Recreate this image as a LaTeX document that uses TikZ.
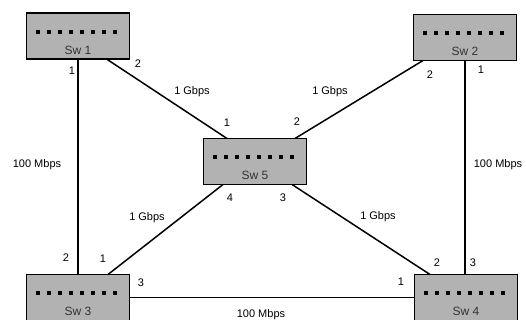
\documentclass[tikz,border=0pt]{standalone}
\usepackage{fontspec}
\setmainfont{Liberation Sans}

\tikzset{
	swbox/.style={draw, fill=gray!60, line width=1.5pt, minimum width=103pt, minimum height=46pt, inner sep=0pt, outer sep=0pt},
	swname/.style={font=\fontsize{12}{14}\selectfont, text=black!80},
	port/.style={font=\fontsize{11}{13}\selectfont, inner sep=0pt},
	rate/.style={font=\fontsize{11}{13}\selectfont, inner sep=0pt}
}

% switch box: name, position, label
\newcommand{\switchbox}[3]{%
	\node[swbox] (#1) at (#2) {};
	\foreach \k in {0,...,7} {
		\fill ([xshift={(\k-3.5)*11-4}, yshift=2]#1.center) rectangle ++(4,4);
	}
	\node[swname] (#1-txt) at ([yshift=-14]#1.center) {#3};
}

\begin{document}
\begin{tikzpicture}[
				x=1pt, y=1pt,
				line width=1.5pt
				]
				
				\useasboundingbox (0,0) rectangle (526,320);
				
				\switchbox{sw1}{78,284}{Sw 1}
				\switchbox{sw2}{465,282.5}{Sw 2}
				\switchbox{sw5}{255,158.5}{Sw 5}
				\switchbox{sw3}{78,22.5}{Sw 3}
				\switchbox{sw4}{466,22.5}{Sw 4}
				
				\draw (sw1.south) -- (sw3.north);
				\draw ([xshift=28.5]sw1.south) -- ([xshift=-28]sw5.north);
				\draw ([xshift=-42]sw2.south) -- ([xshift=40]sw5.north);
				\draw (sw2.south) -- (sw2.south |- sw4.north);
				\draw ([xshift=-32]sw5.south) -- ([xshift=30]sw3.north);
				\draw ([xshift=37]sw5.south) -- ([xshift=-36]sw4.north);
				\draw (sw3.east) -- (sw4.west);
				
				\node[rate] (r13) at (37,155) {100 Mbps};
				\node[rate] (r15) at (192,228) {1 Gbps};
				\node[rate] (r25) at (330,228) {1 Gbps};
				\node[rate] (r24) at (498,155) {100 Mbps};
				\node[rate] (r35) at (147,102) {1 Gbps};
				\node[rate] (r45) at (378,103) {1 Gbps};
				\node[rate] (r34) at (261,5) {100 Mbps};
				
				\node[port] (p11) at (72,249) {1};
				\node[port] (p12) at (138,256) {2};
				\node[port] (p22) at (430,245) {2};
				\node[port] (p21) at (481,250) {1};
				\node[port] (p51) at (227,197) {1};
				\node[port] (p52) at (297,198) {2};
				\node[port] (p54) at (230,122) {4};
				\node[port] (p53) at (283,122) {3};
				\node[port] (p32) at (66,62) {2};
				\node[port] (p31) at (103,61) {1};
				\node[port] (p33) at (141,37) {3};
				\node[port] (p41) at (401,38) {1};
				\node[port] (p42) at (437,57) {2};
				\node[port] (p43) at (473,57) {3};
				
			\end{tikzpicture}
\end{document}
